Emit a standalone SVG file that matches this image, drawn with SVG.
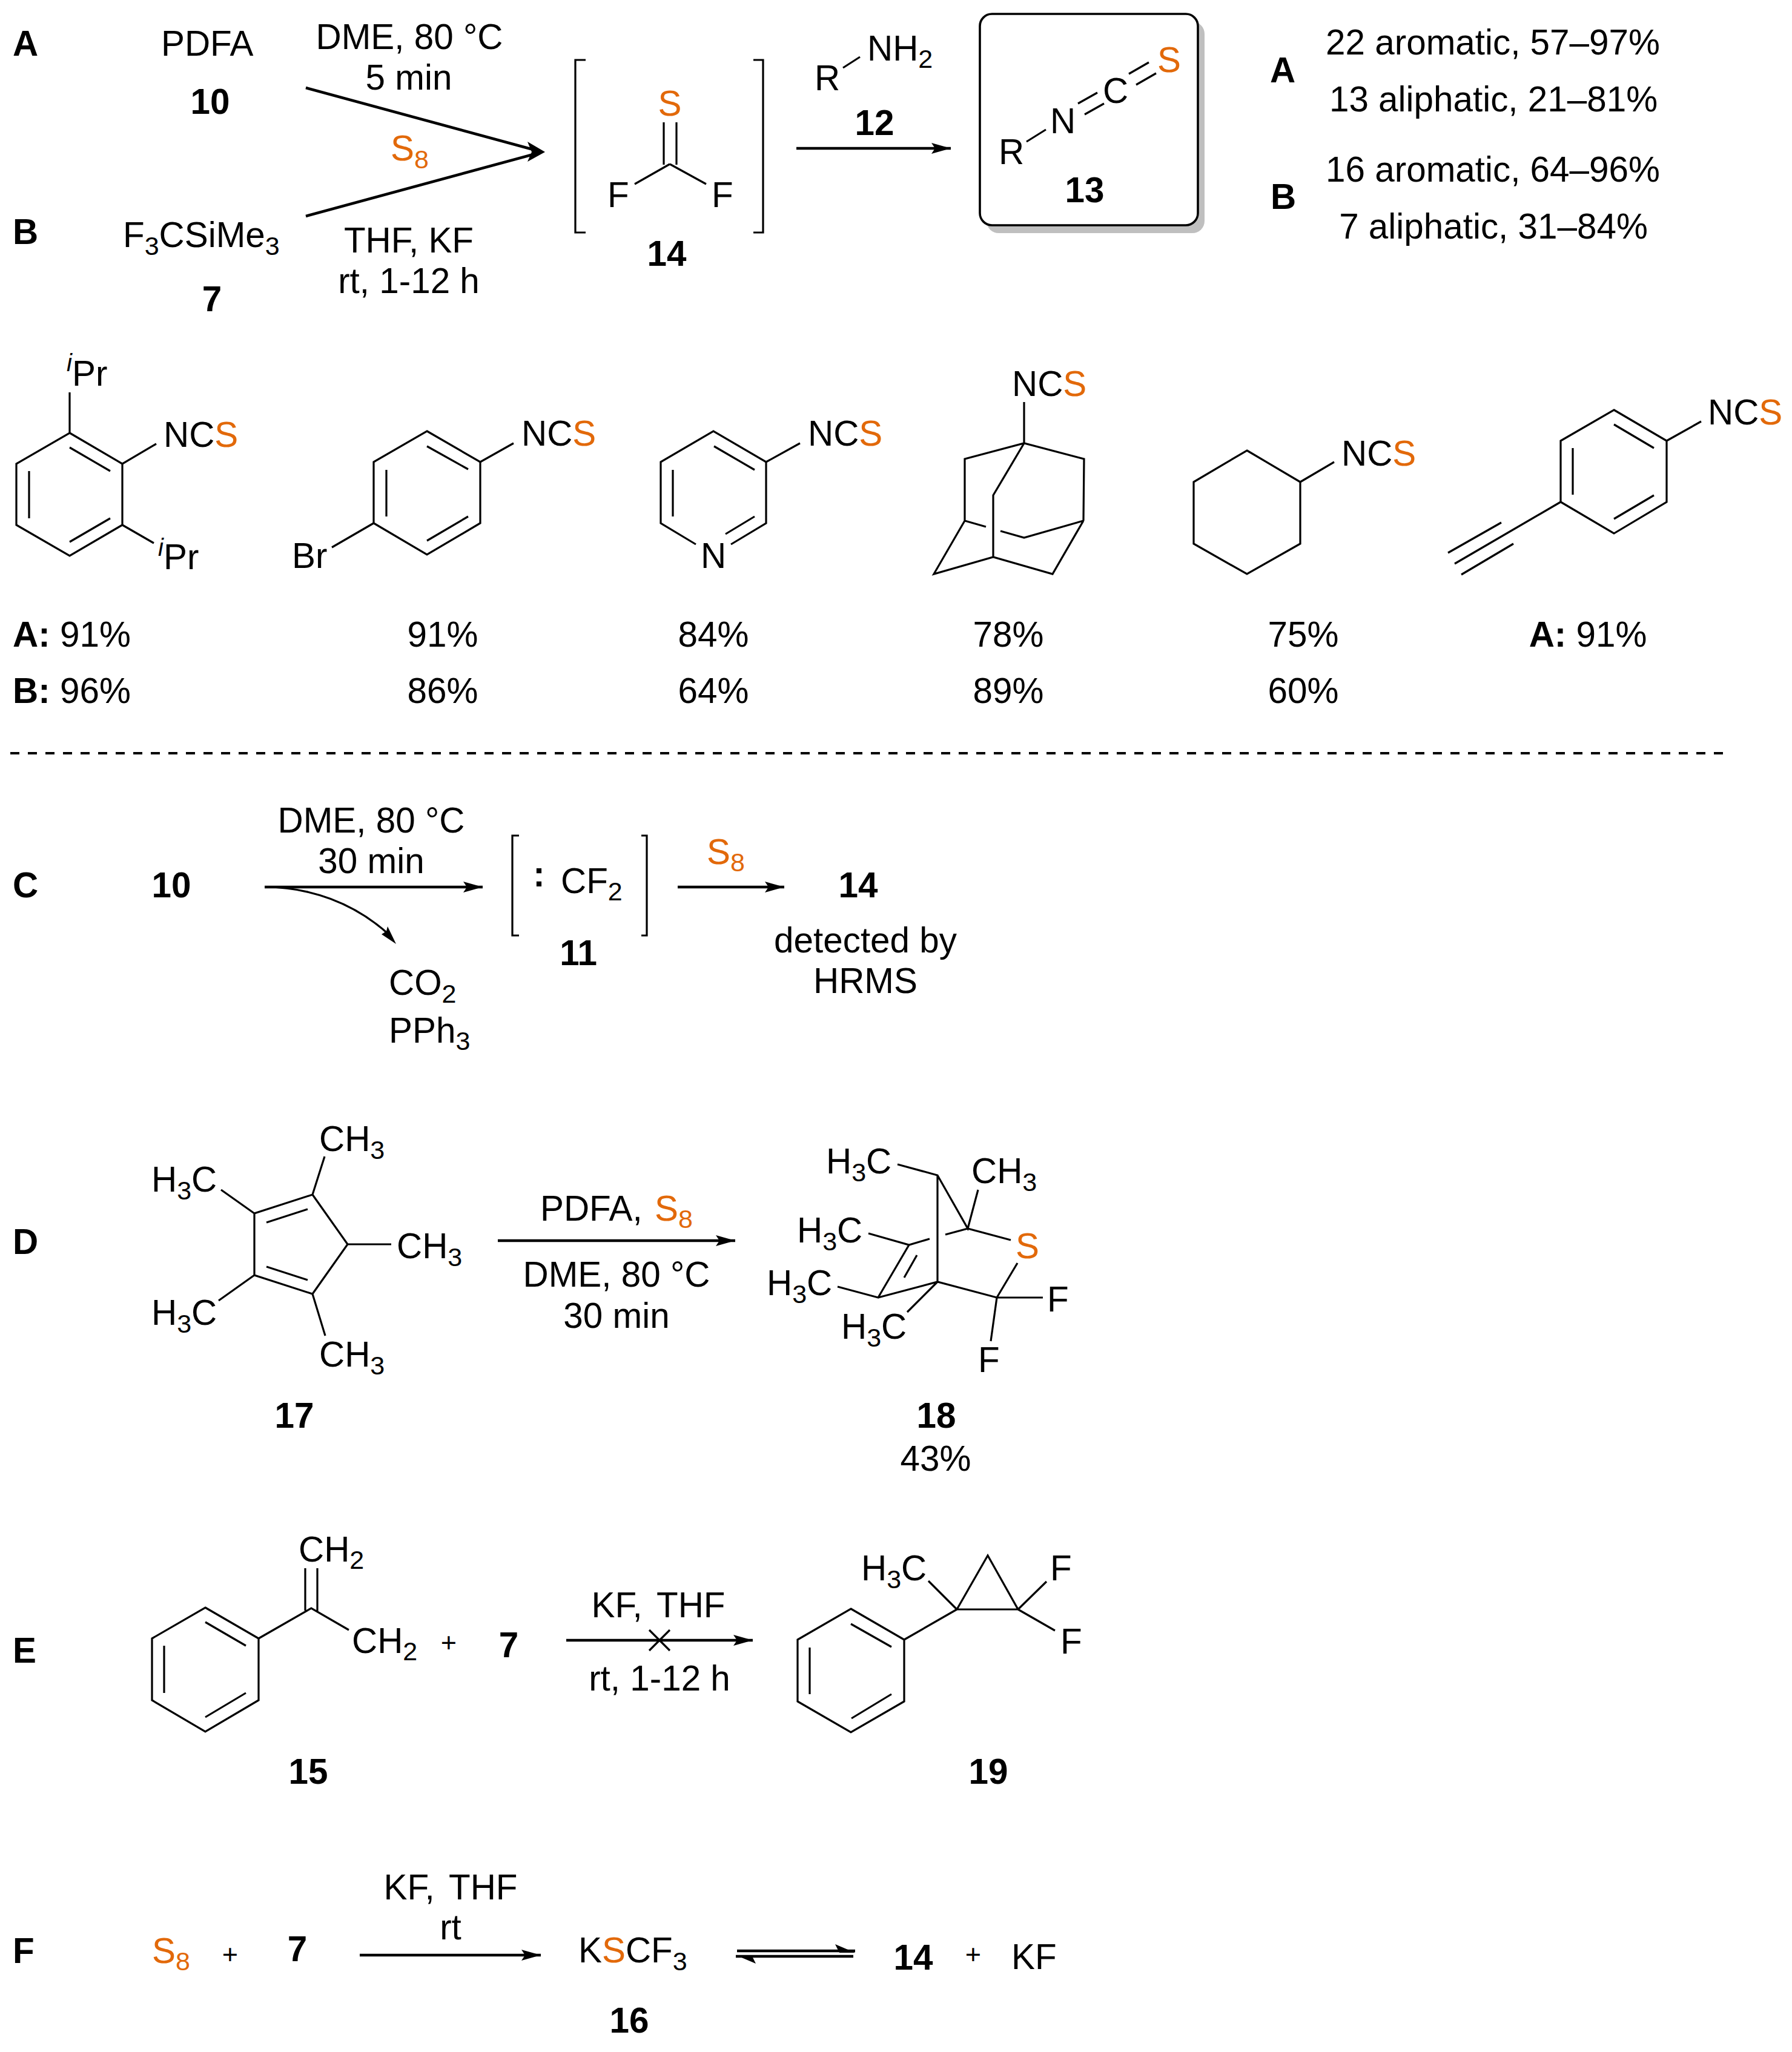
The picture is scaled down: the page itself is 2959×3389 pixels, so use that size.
<svg xmlns="http://www.w3.org/2000/svg" width="2959" height="3389" viewBox="0 0 2959 3389">
<style>
text{font-family:"Liberation Sans",Arial,sans-serif;font-size:58.4px;fill:#000}
.b{font-weight:bold}
.m{text-anchor:middle}
.o{fill:#e2690a}
.s{font-size:43px}
.i{font-size:40px;font-style:italic}
.p{font-size:45px}
.l{fill:none;stroke:#000;stroke-width:3.2;stroke-linecap:butt;stroke-linejoin:miter}
.a{fill:none;stroke:#000;stroke-width:4.5}
.h{fill:#000;stroke:none}
</style>
<defs>
<marker id="arr" markerUnits="userSpaceOnUse" markerWidth="34" markerHeight="20" refX="32" refY="9" orient="auto"><path d="M0,0 L32,9 L0,18 L6,9 Z" fill="#000"/></marker>
</defs>
<rect width="2959" height="3389" fill="#fff"/>

<g id="connectors">
<path class="a" d="M505,145 L884,248"/><path class="a" d="M505,357 L884,254"/>
<path class="h" d="M900,251 L871,234 L878,251 L871,267 Z"/>
<path class="a" d="M1315,245 H1570" marker-end="url(#arr)"/>
<path class="a" d="M437,1465 H797" marker-end="url(#arr)"/>
<path class="l" d="M437,1465 C510,1465 585,1490 645,1546"/>
<path class="h" d="M654,1559 L630,1543 L638,1538 L640,1530 Z"/>
<path class="a" d="M1119,1465 H1295" marker-end="url(#arr)"/>
<path class="a" d="M822,2049 H1214" marker-end="url(#arr)"/>
<path class="a" d="M935,2709 H1243" marker-end="url(#arr)"/>
<path class="l" d="M1072,2692 L1106,2726 M1106,2692 L1072,2726"/>
<path class="a" d="M594,3229 H893" marker-end="url(#arr)"/>
<path class="a" d="M1217,3222 H1412"/>
<path class="h" d="M1412,3225 H1386 L1379,3211 Z"/>
<path class="a" d="M1215,3231 H1409"/>
<path class="h" d="M1215,3229 H1241 L1248,3243 Z"/>
<path d="M17,1244 H2849" fill="none" stroke="#000" stroke-width="4" stroke-dasharray="15 14"/>
</g>

<g id="scheme-A-B-labels">
<text class="b" x="21" y="92">A</text>
<text class="b" x="21" y="403">B</text>
<text x="266" y="92">PDFA</text>
<text class="b m" x="347" y="188">10</text>
<text x="203" y="408">F<tspan class="s" dy="13">3</tspan><tspan dy="-13">CSiMe</tspan><tspan class="s" dy="13">3</tspan></text>
<text class="b m" x="350" y="514">7</text>
<text class="m" x="676" y="81">DME, 80 °C</text>
<text class="m" x="675" y="148">5 min</text>
<text class="o" x="645" y="265">S<tspan class="s" dy="13">8</tspan></text>
<text class="m" x="675" y="417">THF, KF</text>
<text class="m" x="675" y="484">rt, 1-12 h</text>
</g>

<g id="node-14">
<path class="l" d="M967,99 H950 V384 H967 M1244,99 H1260 V384 H1244"/>
<path class="l" d="M1096,202 V272 M1117,202 V272 M1106,271 L1048,304 M1106,271 L1166,304"/>
<text class="o m" x="1106" y="191">S</text>
<text x="1003" y="342">F</text>
<text x="1175" y="342">F</text>
<text class="b m" x="1101" y="439">14</text>
</g>

<g id="node-12">
<path class="l" d="M1392,112 L1420,94"/>
<text x="1345" y="149">R</text>
<text x="1432" y="100">NH<tspan class="s" dy="12">2</tspan></text>
<text class="b m" x="1444" y="223">12</text>
</g>

<g id="node-13">
<rect x="1629" y="36" width="360" height="349" rx="20" fill="#bfbfbf"/>
<rect x="1618" y="23" width="360" height="349" rx="20" fill="#fff" stroke="#000" stroke-width="3.6"/>
<path class="l" d="M1695,234 L1727,214 M1780,171 L1812,153 M1791,189 L1823,171 M1864,122 L1897,103 M1876,140 L1909,121"/>
<text x="1649" y="271">R</text>
<text x="1734" y="220">N</text>
<text x="1821" y="170">C</text>
<text class="o" x="1911" y="119">S</text>
<text class="b m" x="1791" y="334">13</text>
</g>

<g id="summary">
<text class="b" x="2097" y="136">A</text>
<text class="b" x="2098" y="345">B</text>
<text class="m" x="2465" y="90">22 aromatic, 57–97%</text>
<text class="m" x="2466" y="184">13 aliphatic, 21–81%</text>
<text class="m" x="2465" y="300">16 aromatic, 64–96%</text>
<text class="m" x="2466" y="394">7 aliphatic, 31–84%</text>
</g>

<g id="product-diisopropylphenyl">
<path class="l" d="M115,715 L202,766 V867 L115,918 L27,867 V766 Z M115,739 L182,778 M48,778 V856 M182,856 L115,895 M115,715 V648 M202,766 L258,733 M202,867 L254,897"/>
<text class="i" x="110" y="613">i</text><text x="119" y="637">Pr</text>
<text x="270" y="738">NC<tspan class="o">S</tspan></text>
<text class="i" x="261" y="918">i</text><text x="270" y="940">Pr</text>
<text class="b" x="21" y="1068">A:</text><text x="99" y="1068">91%</text>
<text class="b" x="21" y="1161">B:</text><text x="99" y="1161">96%</text>
</g>

<g id="product-bromophenyl">
<path class="l" d="M705,712 L793,763 V864 L705,916 L617,864 V763 Z M705,737 L773,775 M638,776 V853 M773,853 L705,893 M793,763 L848,732 M617,864 L548,904"/>
<text x="861" y="736">NC<tspan class="o">S</tspan></text>
<text x="482" y="938">Br</text>
<text class="m" x="731" y="1068">91%</text>
<text class="m" x="731" y="1161">86%</text>
</g>

<g id="product-pyridyl">
<path class="l" d="M1207,899 L1265,864 V763 L1178,712 L1091,763 V864 L1149,899 M1179,737 L1246,776 M1111,776 V853 M1246,853 L1198,882 M1265,763 L1321,732"/>
<text x="1157" y="938">N</text>
<text x="1334" y="736">NC<tspan class="o">S</tspan></text>
<text class="m" x="1178" y="1068">84%</text>
<text class="m" x="1178" y="1161">64%</text>
</g>

<g id="product-adamantyl">
<path class="l" d="M1691,664 V732 M1593,860 V758 L1691,732 L1790,758 L1789,860 M1691,732 L1640,818 V920 M1593,860 L1628,870 M1652,877 L1691,888 L1789,860 M1593,860 L1542,948 L1640,920 L1738,948 L1789,860"/>
<text x="1671" y="654">NC<tspan class="o">S</tspan></text>
<text class="m" x="1665" y="1068">78%</text>
<text class="m" x="1665" y="1161">89%</text>
</g>

<g id="product-cyclohexyl">
<path class="l" d="M2059,744 L2147,796 V898 L2059,948 L1971,898 V796 Z M2147,796 L2203,763"/>
<text x="2215" y="769">NC<tspan class="o">S</tspan></text>
<text class="m" x="2152" y="1068">75%</text>
<text class="m" x="2152" y="1161">60%</text>
</g>

<g id="product-ethynylphenyl">
<path class="l" d="M2665,677 L2752,728 V829 L2665,881 L2577,829 V728 Z M2665,701 L2731,740 M2597,740 V817 M2731,818 L2665,857 M2752,728 L2809,696 M2577,829 L2402,931 M2479,863 L2391,913 M2499,898 L2413,949"/>
<text x="2820" y="701">NC<tspan class="o">S</tspan></text>
<text class="m" x="2622" y="1068"><tspan class="b">A</tspan><tspan class="b">:</tspan> 91%</text>
</g>

<g id="scheme-C">
<text class="b" x="21" y="1482">C</text>
<text class="b m" x="283" y="1482">10</text>
<text class="m" x="613" y="1375">DME, 80 °C</text>
<text class="m" x="613" y="1442">30 min</text>
<text x="642" y="1643">CO<tspan class="s" dy="13">2</tspan></text>
<text x="642" y="1722">PPh<tspan class="s" dy="12">3</tspan></text>
</g>

<g id="node-11">
<path class="l" d="M857,1380 H846 V1545 H857 M1059,1380 H1068 V1545 H1059"/>
<text class="b m" x="890" y="1464">:</text>
<text x="926" y="1475">CF<tspan class="s" dy="12">2</tspan></text>
<text class="b m" x="955" y="1594">11</text>
</g>

<g id="node-14-detected">
<text class="o" x="1167" y="1427">S<tspan class="s" dy="12">8</tspan></text>
<text class="b m" x="1417" y="1482">14</text>
<text class="m" x="1429" y="1573">detected by</text>
<text class="m" x="1429" y="1640">HRMS</text>
</g>

<g id="node-17">
<path class="l" d="M516,1973 L420,2004 V2106 L516,2137 L574,2055 Z M508,1997 L440,2019 M440,2092 L508,2114 M516,1973 L536,1910 M420,2004 L365,1965 M574,2055 H646 M420,2106 L361,2148 M516,2137 L537,2206"/>
<text x="527" y="1901">CH<tspan class="s" dy="13">3</tspan></text>
<text x="250" y="1968">H<tspan class="s" dy="13">3</tspan><tspan dy="-13">C</tspan></text>
<text x="655" y="2078">CH<tspan class="s" dy="13">3</tspan></text>
<text x="250" y="2188">H<tspan class="s" dy="13">3</tspan><tspan dy="-13">C</tspan></text>
<text x="527" y="2257">CH<tspan class="s" dy="13">3</tspan></text>
<text class="b m" x="486" y="2358">17</text>
</g>

<g id="scheme-D">
<text class="b" x="21" y="2071">D</text>
<text x="892" y="2016">PDFA,</text><text class="o" x="1081" y="2016">S<tspan class="s" dy="12">8</tspan></text>
<text class="m" x="1018" y="2125">DME, 80 °C</text>
<text class="m" x="1018" y="2193">30 min</text>
</g>

<g id="node-18">
<path class="l" d="M1548,1941 V2117 M1482,1923 L1548,1941 L1598,2029 L1615,1965 M1598,2029 L1669,2048 M1598,2029 L1561,2039 M1535,2046 L1501,2056 L1434,2037 M1501,2056 L1450,2143 L1383,2125 M1514,2073 L1493,2110 M1450,2143 L1548,2117 L1646,2143 L1680,2086 M1548,2117 L1498,2167 M1646,2143 H1722 M1646,2143 L1636,2215"/>
<text x="1364" y="1938">H<tspan class="s" dy="13">3</tspan><tspan dy="-13">C</tspan></text>
<text x="1604" y="1954">CH<tspan class="s" dy="13">3</tspan></text>
<text x="1316" y="2052">H<tspan class="s" dy="13">3</tspan><tspan dy="-13">C</tspan></text>
<text class="o" x="1677" y="2078">S</text>
<text x="1266" y="2139">H<tspan class="s" dy="13">3</tspan><tspan dy="-13">C</tspan></text>
<text x="1729" y="2166">F</text>
<text x="1389" y="2211">H<tspan class="s" dy="13">3</tspan><tspan dy="-13">C</tspan></text>
<text x="1615" y="2266">F</text>
<text class="b m" x="1546" y="2358">18</text>
<text class="m" x="1545" y="2429">43%</text>
</g>

<g id="node-15">
<text class="b" x="21" y="2746">E</text>
<path class="l" d="M339,2655 L427,2706 V2808 L339,2860 L251,2808 V2706 Z M339,2679 L406,2718 M271,2718 V2796 M406,2796 L339,2836 M427,2706 L514,2656 L576,2692 M504,2590 V2660 M524,2590 V2662"/>
<text x="493" y="2579">CH<tspan class="s" dy="12">2</tspan></text>
<text x="581" y="2730">CH<tspan class="s" dy="12">2</tspan></text>
<text class="b m" x="509" y="2946">15</text>
</g>

<g id="scheme-E">
<text class="p m" x="741" y="2728">+</text>
<text class="b m" x="840" y="2737">7</text>
<text class="m" x="1087" y="2671">KF,<tspan dx="8"> THF</tspan></text>
<text class="m" x="1089" y="2792">rt, 1-12 h</text>
</g>

<g id="node-19">
<path class="l" d="M1405,2657 L1493,2708 V2810 L1405,2861 L1317,2810 V2708 Z M1405,2682 L1472,2720 M1337,2721 V2798 M1472,2798 L1406,2838 M1493,2708 L1580,2658 M1580,2658 L1631,2569 L1681,2658 Z M1580,2658 L1533,2611 M1681,2658 L1728,2612 M1681,2658 L1742,2693"/>
<text x="1422" y="2610">H<tspan class="s" dy="13">3</tspan><tspan dy="-13">C</tspan></text>
<text x="1734" y="2610">F</text>
<text x="1751" y="2731">F</text>
<text class="b m" x="1632" y="2946">19</text>
</g>

<g id="scheme-F">
<text class="b" x="21" y="3242">F</text>
<text class="o" x="251" y="3242">S<tspan class="s" dy="12">8</tspan></text>
<text class="p m" x="380" y="3243">+</text>
<text class="b m" x="491" y="3239">7</text>
<text class="m" x="744" y="3137">KF,<tspan dx="8"> THF</tspan></text>
<text class="m" x="744" y="3203">rt</text>
<text x="955" y="3241">K<tspan class="o">S</tspan>CF<tspan class="s" dy="13">3</tspan></text>
<text class="b m" x="1039" y="3357">16</text>
<text class="b m" x="1508" y="3253">14</text>
<text class="p m" x="1607" y="3243">+</text>
<text x="1670" y="3252">KF</text>
</g>
</svg>
